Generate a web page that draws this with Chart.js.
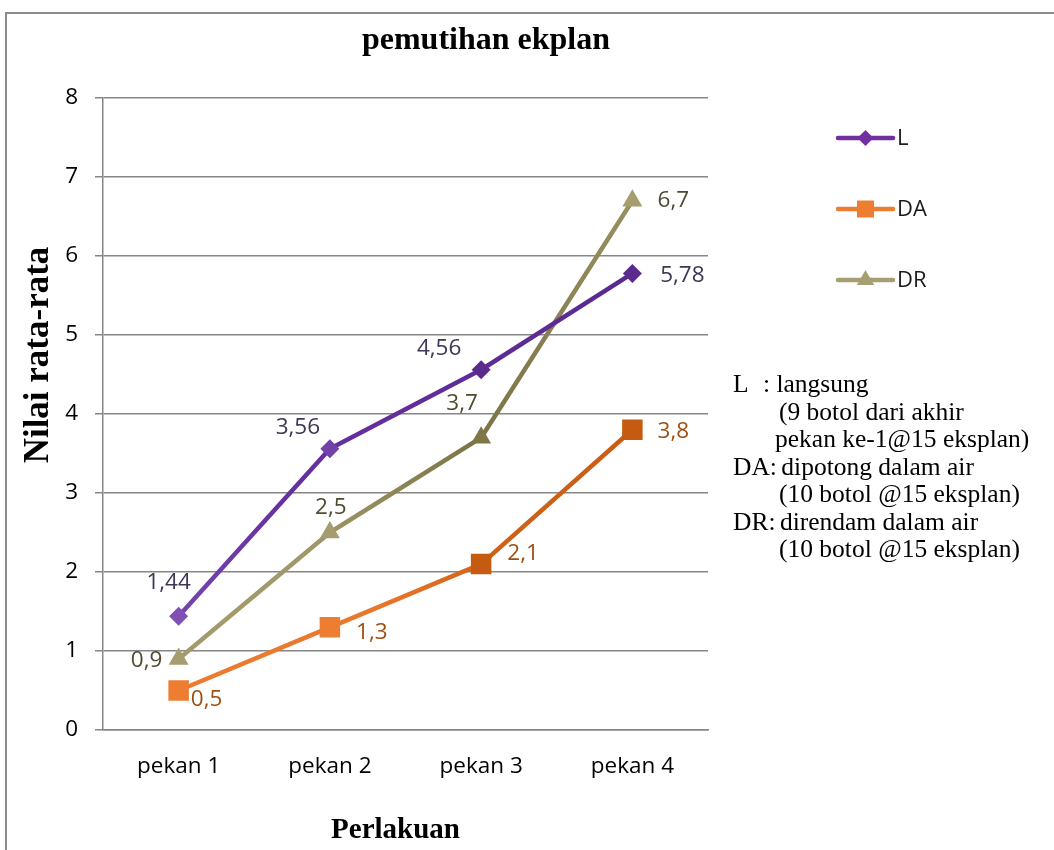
<!DOCTYPE html>
<html>
<head>
<meta charset="utf-8">
<script src="https://cdn.jsdelivr.net/npm/chart.js@4.4.1/dist/chart.umd.min.js"></script>
<style>
  html, body { margin: 0; padding: 0; background: #fff; overflow: hidden; }
  #wrap { position: relative; width: 1054px; height: 850px; }
  #frame { position: absolute; left: 5px; top: 12px; width: 1100px; height: 900px;
           border: 2px solid #8c8c8c; box-sizing: border-box; pointer-events: none; }
  canvas { position: absolute; left: 0; top: 0; }
</style>
</head>
<body>
<div id="wrap">
  <div id="frame"></div>
  <canvas id="c" width="1054" height="850"></canvas>
</div>
<script>
// Weekly averages per treatment
const categories = ['pekan 1', 'pekan 2', 'pekan 3', 'pekan 4'];
const seriesL  = [1.44, 3.56, 4.56, 5.78];
const seriesDA = [0.5, 1.3, 2.1, 3.8];
const seriesDR = [0.9, 2.5, 3.7, 6.7];
const seriesNames = ['L', 'DA', 'DR'];
const yMin = 0, yMax = 8, yStep = 1;

const chartTitle = 'pemutihan ekplan';
const xTitle = 'Perlakuan';
const yTitle = 'Nilai rata-rata';

// Explanatory notes shown under the legend: [prefix, text]
const noteLines = [
  ['L', ': langsung'],
  ['', '(9 botol dari akhir'],
  ['', 'pekan ke-1@15 eksplan)'],
  ['DA:', 'dipotong dalam air'],
  ['', '(10 botol @15 eksplan)'],
  ['DR:', 'direndam dalam air'],
  ['', '(10 botol @15 eksplan)']
];

// Value-label placement relative to each point (dx, dy of the text centre)
const labelOffsets = [
  [[-10, -34], [-32, -21], [-42, -21], [50, 2]],
  [[28, 9], [42, 5], [42, -11], [41, 2]],
  [[-32, 2], [1, -25], [-19, -34], [41, 0]]
];

const sansFont = "'Open Sans', 'Liberation Sans', sans-serif";
const serifFont = "'Liberation Serif', 'Times New Roman', serif";

function hGradient(stops, fallback) {
  return function (ctx) {
    const chart = ctx.chart;
    const a = chart.chartArea;
    if (!a) return fallback;
    const g = chart.ctx.createLinearGradient(a.left, 0, a.right, 0);
    stops.forEach(s => g.addColorStop(s[0], s[1]));
    return g;
  };
}

const styles = [
  { legendColor: '#7030a0', labelColor: '#3f3556', pointStyle: 'rectRot', radius: 9.5, legendRadius: 8,
    line: hGradient([[0, '#8352b8'], [0.3, '#6630a0'], [1, '#57288b']], '#7030a0'),
    points: ['#8050b5', '#7242a8', '#5b2a8d', '#5b2a8d'] },
  { legendColor: '#ed7d31', labelColor: '#a04f10', pointStyle: 'rect', radius: 14.5, legendRadius: 12,
    line: hGradient([[0, '#ed7d31'], [0.45, '#e8782b'], [0.65, '#cf6218'], [1, '#c55a11']], '#ed7d31'),
    points: ['#ed7d31', '#ed7d31', '#c55a11', '#c55a11'] },
  { legendColor: '#a69f73', labelColor: '#4f4a30', pointStyle: 'triangle', radius: 11.5, legendRadius: 10,
    line: hGradient([[0, '#a59d6f'], [0.35, '#a09868'], [0.62, '#7b7345'], [0.85, '#958d60'], [1, '#a59d6f']], '#a59d6f'),
    points: ['#a59d6f', '#a59d6f', '#7f7647', '#a59d6f'] }
];

const allSeries = [seriesL, seriesDA, seriesDR];

const datasets = allSeries.map((vals, i) => ({
  label: seriesNames[i],
  data: vals,
  borderColor: styles[i].line,
  borderWidth: 4.5,
  borderCapStyle: 'round',
  borderJoinStyle: 'round',
  tension: 0,
  pointStyle: styles[i].pointStyle,
  pointRadius: styles[i].radius,
  pointBackgroundColor: styles[i].points,
  pointBorderColor: styles[i].points,
  pointBorderWidth: 0,
  fill: false
}));

function fmt(v) { return String(v).replace('.', ','); }

const decorPlugin = {
  id: 'decor',
  afterDatasetsDraw(chart) {
    const ctx = chart.ctx;
    ctx.save();
    ctx.font = '22.5px ' + sansFont;
    ctx.textAlign = 'center';
    ctx.textBaseline = 'middle';
    chart.data.datasets.forEach((ds, i) => {
      const meta = chart.getDatasetMeta(i);
      ctx.fillStyle = styles[i].labelColor;
      meta.data.forEach((pt, j) => {
        const off = labelOffsets[i][j];
        ctx.fillText(fmt(ds.data[j]), pt.x + off[0], pt.y + off[1]);
      });
    });
    ctx.restore();
  },
  afterDraw(chart) {
    const ctx = chart.ctx;
    const a = chart.chartArea;
    ctx.save();
    ctx.fillStyle = '#000';
    ctx.textAlign = 'center';
    ctx.textBaseline = 'middle';

    // chart title
    ctx.font = 'bold 32px ' + serifFont;
    ctx.fillText(chartTitle, 486, 41);

    // x axis title
    ctx.font = 'bold 29px ' + serifFont;
    ctx.fillText(xTitle, (a.left + a.right) / 2 - 10, 831);

    // y axis title
    ctx.save();
    ctx.translate(39, 355);
    ctx.rotate(-Math.PI / 2);
    ctx.font = 'bold 35px ' + serifFont;
    ctx.fillText(yTitle, 0, 0);
    ctx.restore();

    // legend
    const legendX0 = 838, legendX1 = 893, legendY = [138, 209, 280];
    chart.data.datasets.forEach((ds, i) => {
      const y = legendY[i];
      ctx.strokeStyle = styles[i].legendColor;
      ctx.lineWidth = 4.5;
      ctx.lineCap = 'round';
      ctx.beginPath();
      ctx.moveTo(legendX0, y);
      ctx.lineTo(legendX1, y);
      ctx.stroke();
      ctx.fillStyle = styles[i].legendColor;
      Chart.helpers.drawPoint(ctx, {
        pointStyle: styles[i].pointStyle, rotation: 0,
        radius: styles[i].legendRadius, borderWidth: 0
      }, (legendX0 + legendX1) / 2, y);
      ctx.fillStyle = '#1a1a1a';
      ctx.font = '22px ' + sansFont;
      ctx.textAlign = 'left';
      ctx.fillText(ds.label, 897, y + 1);
    });

    // notes
    ctx.fillStyle = '#000';
    ctx.font = '25.5px ' + serifFont;
    ctx.textAlign = 'left';
    ctx.textBaseline = 'alphabetic';
    const noteTop = 392, noteStep = 27.5;
    noteLines.forEach((ln, k) => {
      const y = noteTop + k * noteStep;
      if (ln[0] === 'L') {
        ctx.fillText('L', 733, y);
        ctx.fillText(ln[1], 763, y);
      } else if (ln[0]) {
        const w = ctx.measureText(ln[0] + ' ').width;
        ctx.fillText(ln[0], 733, y);
        ctx.fillText(ln[1], 733 + w - 2, y);
      } else {
        ctx.fillText(ln[1], k === 2 ? 775 : 779, y);
      }
    });
    ctx.restore();
  }
};

new Chart(document.getElementById('c'), {
  type: 'line',
  data: { labels: categories, datasets },
  options: {
    responsive: false,
    animation: false,
    devicePixelRatio: 1,
    layout: { padding: { top: 98, right: 346, left: 0, bottom: 0 } },
    plugins: {
      legend: { display: false },
      title: { display: false },
      tooltip: { enabled: false }
    },
    scales: {
      x: {
        type: 'category',
        offset: true,
        grid: { display: false, drawTicks: false },
        border: { display: true, color: '#868686', width: 1.5 },
        ticks: { color: '#000', font: { family: sansFont, size: 22.5 }, padding: 23 },
        afterFit(scale) { scale.height = 120; }
      },
      y: {
        min: yMin,
        max: yMax,
        ticks: { stepSize: yStep, color: '#000', font: { family: sansFont, size: 22.5 }, padding: 17 },
        grid: { color: '#868686', lineWidth: 1.5, tickLength: 8, drawTicks: true },
        border: { display: true, color: '#868686', width: 1.5 },
        afterFit(scale) { scale.width = 103; }
      }
    }
  },
  plugins: [decorPlugin]
});
</script>
</body>
</html>
